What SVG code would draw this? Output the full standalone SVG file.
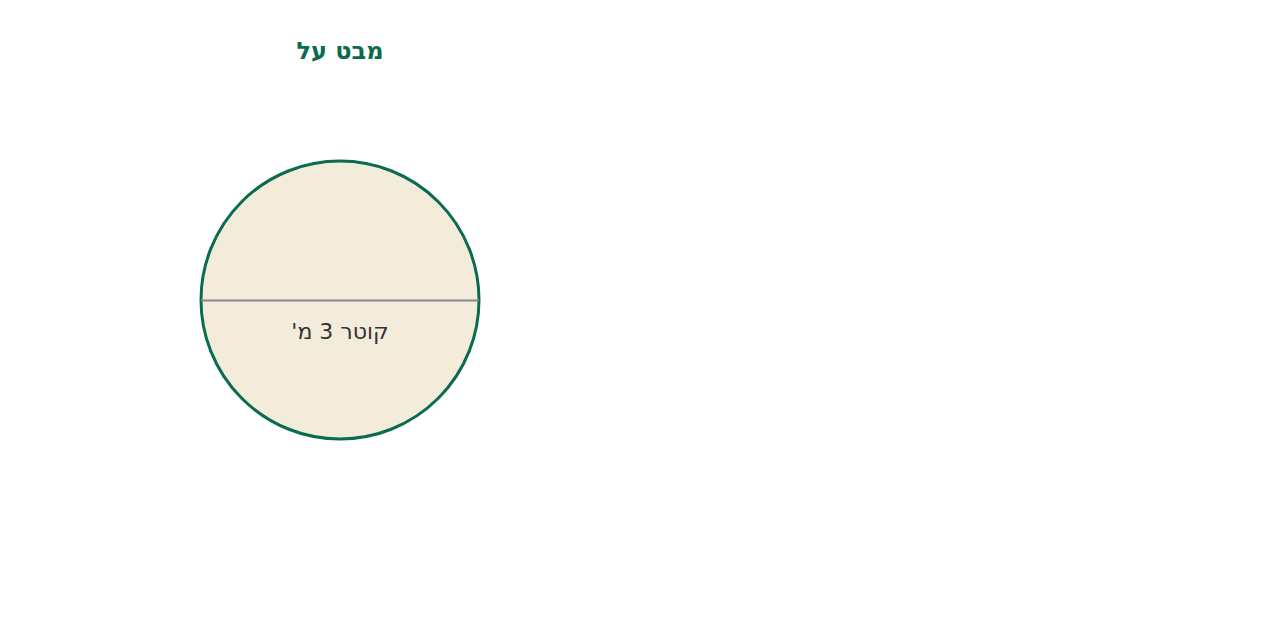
<svg xmlns="http://www.w3.org/2000/svg" width="1280" height="640" viewBox="0 0 1280 640">
<style>
.title{font-family:"DejaVu Sans",sans-serif;font-size:24px;font-weight:bold;fill:#0b6b4f;text-anchor:middle}
.lbl{font-family:"DejaVu Sans",sans-serif;font-size:22px;fill:#333;text-anchor:middle}
</style>
<rect width="1280" height="640" fill="#fff"/>
<text class="title" x="340" y="59" direction="rtl" unicode-bidi="embed">מבט על</text>
<g id="circle">
<circle cx="340" cy="300" r="139" fill="#f3ecdb" stroke="#0b6b4f" stroke-width="3"/>
</g>
<g id="connectors">
<line x1="201" y1="300.5" x2="479" y2="300.5" stroke="#888" stroke-width="2"/>
</g>
<g id="label">
<text class="lbl" x="340" y="339" direction="rtl" unicode-bidi="embed">קוטר 3 מ'</text>
</g>
</svg>
